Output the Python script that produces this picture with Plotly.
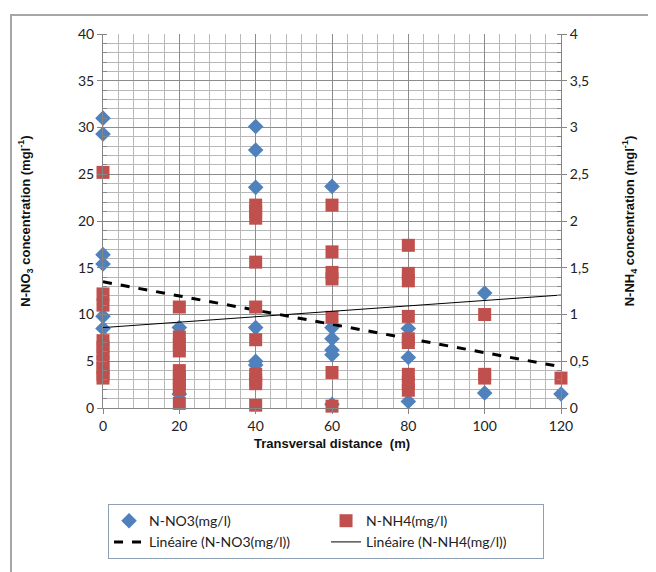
import numpy as np
import plotly.graph_objects as go

# ---- data ----
distances = [0, 20, 40, 60, 80, 100, 120]

no3_x = [0, 0, 0, 0, 0, 0,
         20, 20,
         40, 40, 40, 40, 40, 40,
         60, 60, 60, 60, 60, 60,
         80, 80, 80,
         100, 100,
         120]
no3_y = [31.0, 29.3, 16.4, 15.4, 9.8, 8.5,
         8.6, 1.5,
         30.1, 27.6, 23.6, 8.6, 5.0, 4.6,
         23.7, 8.6, 7.4, 6.2, 5.7, 0.4,
         8.5, 5.4, 0.7,
         12.3, 1.6,
         1.5]

nh4_x = [0, 0, 0, 0, 0, 0, 0, 0, 0, 0,
         20, 20, 20, 20, 20, 20, 20, 20, 20,
         40, 40, 40, 40, 40, 40, 40, 40, 40, 40,
         60, 60, 60, 60, 60, 60, 60,
         80, 80, 80, 80, 80, 80, 80, 80, 80,
         100, 100, 100,
         120]
nh4_y = [2.52, 1.22, 1.10, 0.72, 0.65, 0.58, 0.50, 0.43, 0.36, 0.32,
         1.08, 0.76, 0.68, 0.61, 0.40, 0.33, 0.26, 0.20, 0.05,
         2.17, 2.10, 2.03, 1.56, 1.08, 0.73, 0.36, 0.30, 0.26, 0.03,
         2.17, 1.67, 1.45, 1.38, 0.97, 0.38, 0.02,
         1.74, 1.44, 1.36, 0.98, 0.74, 0.70, 0.36, 0.27, 0.19,
         1.00, 0.36, 0.32,
         0.32]

# linear trendlines: (intercept, slope)
no3_trend = (13.5, -0.0758)
nh4_trend = (0.86, 0.0029)
trend_x = np.array([min(distances), max(distances)], dtype=float)

left_ticks = list(range(0, 45, 5))
right_ticks = [0, 0.5, 1, 1.5, 2, 2.5, 3, 3.5, 4]

BLUE = "#4F81BD"
RED = "#C0504D"
AXIS = "#868686"
GRID = "#8c8c8c"
MINOR = "#b8b8b8"
TICKFONT = dict(family="Lato, Open Sans, sans-serif", size=14, color="#222222")
TITLEFONT = dict(family="Liberation Sans, Arial, sans-serif", size=13, color="#111111")

fig = go.Figure()
fig.add_trace(go.Scatter(
    x=no3_x, y=no3_y, mode="markers", name="N-NO3(mg/l)",
    marker=dict(symbol="diamond", size=12, color=BLUE), cliponaxis=False))
fig.add_trace(go.Scatter(
    x=nh4_x, y=nh4_y, mode="markers", name="N-NH4(mg/l)", yaxis="y2",
    marker=dict(symbol="square", size=13, color=RED), cliponaxis=False))
fig.add_trace(go.Scatter(
    x=trend_x, y=no3_trend[0] + no3_trend[1] * trend_x, mode="lines",
    name="Linéaire (N-NO3(mg/l))", line=dict(color="black", width=3, dash="dash")))
fig.add_trace(go.Scatter(
    x=trend_x, y=nh4_trend[0] + nh4_trend[1] * trend_x, mode="lines", yaxis="y2",
    name="Linéaire (N-NH4(mg/l))", line=dict(color="black", width=1)))

fig.update_layout(
    width=656, height=572,
    margin=dict(l=95, r=103, t=26, b=172, autoexpand=False),
    paper_bgcolor="white", plot_bgcolor="white",
    separators=",.",
    showlegend=True,
    xaxis=dict(
        range=[0, 120], tickvals=distances, showline=True, linecolor=AXIS,
        ticks="outside", ticklen=5, tickcolor=AXIS, tickfont=TICKFONT,
        showgrid=True, gridcolor=GRID, gridwidth=1, zeroline=False,
        minor=dict(dtick=4, showgrid=True, gridcolor=MINOR, gridwidth=1),
        title=dict(text="<b>Transversal distance  (m)</b>", font=TITLEFONT, standoff=6),
    ),
    yaxis=dict(
        range=[0, 40], tickvals=left_ticks, showline=True, linecolor=AXIS,
        ticks="outside", ticklen=5, tickcolor=AXIS, tickfont=TICKFONT,
        showgrid=True, gridcolor=GRID, gridwidth=1, zeroline=False,
        minor=dict(dtick=1, showgrid=True, gridcolor=MINOR, gridwidth=1,
                   ticks="inside", ticklen=4, tickcolor=AXIS),
        title=dict(text="<b>N-NO<sub>3</sub> concentration (mgl<sup>-1</sup>)</b>",
                   font=TITLEFONT, standoff=44),
    ),
    yaxis2=dict(
        overlaying="y", side="right", range=[0, 4], tickvals=right_ticks,
        showline=True, linecolor=AXIS, ticks="outside", ticklen=5, tickcolor=AXIS,
        tickfont=TICKFONT, showgrid=False, zeroline=False,
        minor=dict(dtick=0.1, showgrid=False, ticks="inside", ticklen=4, tickcolor=AXIS),
        title=dict(text="<b>N-NH<sub>4</sub> concentration (mgl<sup>-1</sup>)</b>",
                   font=TITLEFONT, standoff=36),
    ),
    legend=dict(
        orientation="h", x=0.011, y=-0.257, xanchor="left", yanchor="top",
        entrywidth=172, entrywidthmode="pixels",
        bordercolor="#8ea0b4", borderwidth=1, bgcolor="white",
        font=dict(family="Lato, Open Sans, sans-serif", size=14, color="#222222"),
        tracegroupgap=0,
    ),
    shapes=[dict(type="rect", xref="paper", yref="paper",
                 x0=-0.2009, x1=1.218, y0=-0.4626, y1=1.0508,
                 line=dict(color="#a6a6a6", width=2), layer="below")],
)

fig.write_html("out.html")
